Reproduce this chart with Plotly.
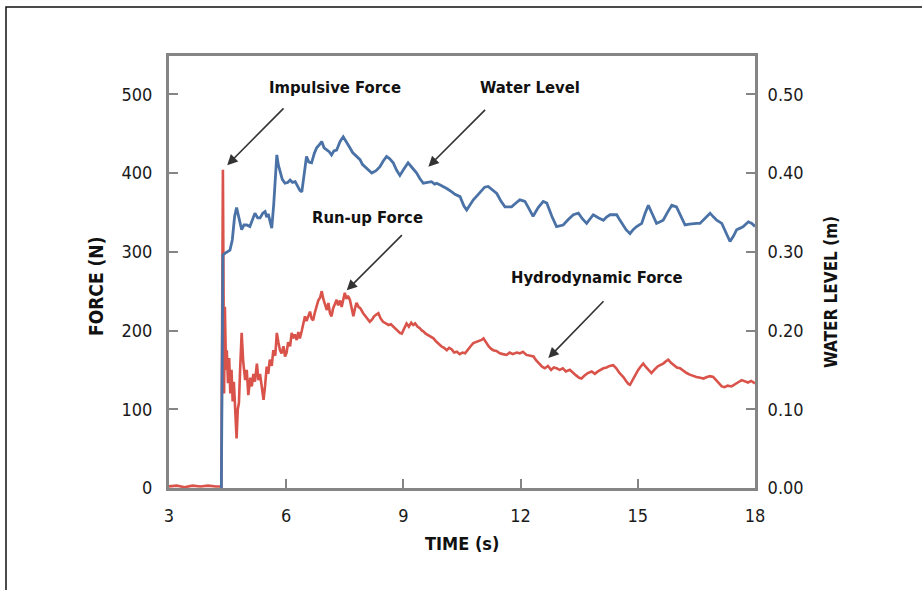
import plotly.graph_objects as go

# ---- data ----
force_t = [3.00, 3.20, 3.40, 3.60, 3.80, 4.00, 4.20, 4.34, 4.38, 4.41, 4.43, 4.46, 4.48, 4.51, 4.54, 4.57,
           4.60, 4.63, 4.66, 4.70, 4.73, 4.76, 4.79, 4.82, 4.86, 4.90, 4.95, 4.99, 5.03, 5.08, 5.12, 5.16,
           5.20, 5.25, 5.29, 5.33, 5.38, 5.42, 5.46, 5.50, 5.54, 5.58, 5.63, 5.67, 5.72, 5.76, 5.80, 5.84,
           5.88, 5.93, 5.97, 6.01, 6.05, 6.10, 6.14, 6.18, 6.22, 6.27, 6.31, 6.35, 6.40, 6.44, 6.48, 6.52,
           6.57, 6.61, 6.65, 6.69, 6.73, 6.78, 6.82, 6.87, 6.91, 6.95, 7.00, 7.04, 7.08, 7.12, 7.16, 7.20,
           7.25, 7.29, 7.33, 7.38, 7.42, 7.46, 7.50, 7.54, 7.58, 7.63, 7.67, 7.72, 7.76, 7.80, 7.85, 7.90,
           7.97, 8.03, 8.08, 8.14, 8.20, 8.25, 8.30, 8.36, 8.42, 8.48, 8.55, 8.62, 8.68, 8.74, 8.80, 8.86,
           8.91, 8.96, 9.02, 9.08, 9.14, 9.20, 9.25, 9.30, 9.36, 9.42, 9.47, 9.51, 9.57, 9.63, 9.70, 9.77,
           9.84, 9.90, 9.97, 10.04, 10.11, 10.17, 10.24, 10.30, 10.37, 10.44, 10.51, 10.58, 10.65, 10.72,
           10.79, 10.86, 10.93, 11.00, 11.05, 11.12, 11.18, 11.24, 11.30, 11.38, 11.47, 11.55, 11.64, 11.72,
           11.80, 11.90, 11.98, 12.06, 12.15, 12.25, 12.33, 12.40, 12.48, 12.55, 12.62, 12.70, 12.78, 12.85,
           12.92, 13.00, 13.08, 13.16, 13.26, 13.34, 13.42, 13.50, 13.56, 13.64, 13.72, 13.82, 13.90, 13.98,
           14.05, 14.12, 14.20, 14.28, 14.37, 14.45, 14.53, 14.63, 14.70, 14.76, 14.80, 14.86, 14.93, 15.01,
           15.07, 15.14, 15.20, 15.28, 15.35, 15.42, 15.50, 15.57, 15.65, 15.72, 15.78, 15.85, 15.93, 16.00,
           16.08, 16.16, 16.25, 16.33, 16.42, 16.50, 16.60, 16.68, 16.77, 16.85, 16.93, 17.00, 17.08, 17.15,
           17.22, 17.30, 17.40, 17.48, 17.56, 17.66, 17.74, 17.82, 17.90, 18.00]
force_n = [2, 3, 1, 3, 2, 3, 2, 2, 404, 120, 230, 150, 175, 133, 165, 120,
           150, 110, 135, 95, 63, 100, 108, 150, 197, 160, 137, 150, 118, 140, 129, 145,
           135, 158, 137, 145, 125, 112, 130, 154, 145, 163, 155, 175, 168, 197, 185, 175,
           171, 180, 167, 172, 185, 180, 197, 190, 195, 188, 198, 190, 200, 210, 218, 212,
           220, 224, 215, 213, 222, 230, 238, 242, 250, 240, 232, 226, 235, 222, 218, 228,
           234, 239, 232, 238, 230, 240, 248, 240, 244, 239, 230, 218, 228, 235, 230, 228,
           222, 218, 214, 211, 214, 218, 220, 222, 215, 211, 209, 207, 208, 205, 203, 200,
           197, 196, 203, 209, 205, 210, 207, 209, 205, 203, 200, 199, 196, 194, 192, 190,
           186, 183, 180, 178, 175, 178, 176, 172, 173, 170, 172, 171, 176, 180,
           184, 185, 187, 188, 190, 184, 180, 177, 175, 174, 171, 170, 169, 172,
           170, 172, 171, 173, 169, 168, 167, 162, 157, 154, 152, 155, 150, 153,
           152, 150, 152, 148, 150, 146, 143, 140, 139, 143, 146, 148, 145, 148,
           150, 152, 153, 155, 156, 152, 146, 141, 136, 132, 131, 137, 143, 150,
           154, 158, 154, 149, 146, 150, 154, 156, 158, 161, 163, 159, 156, 153,
           152, 149, 146, 144, 142, 141, 140, 139, 141, 142, 141, 137, 133, 129,
           128, 130, 129, 131, 134, 137, 135, 134, 136, 133]

level_t = [4.34, 4.38, 4.43, 4.50, 4.56, 4.62, 4.68, 4.73, 4.78, 4.83, 4.86, 4.92, 4.99, 5.07, 5.13, 5.20,
           5.27, 5.33, 5.40, 5.46, 5.50, 5.54, 5.59, 5.63, 5.68, 5.72, 5.76, 5.80, 5.84, 5.90, 5.97, 6.04,
           6.10, 6.16, 6.23, 6.30, 6.35, 6.40, 6.46, 6.52, 6.58, 6.65, 6.72, 6.78, 6.85, 6.91, 6.97, 7.04,
           7.10, 7.16, 7.22, 7.29, 7.38, 7.46, 7.54, 7.63, 7.70, 7.76, 7.82, 7.89, 7.95, 8.02, 8.10, 8.19,
           8.30, 8.40, 8.48, 8.57, 8.65, 8.74, 8.82, 8.91, 9.00, 9.12, 9.22, 9.34, 9.42, 9.51, 9.62, 9.72,
           9.80, 9.85, 9.93, 10.02, 10.12, 10.24, 10.32, 10.45, 10.55, 10.62, 10.70, 10.79, 10.90, 11.00,
           11.08, 11.17, 11.28, 11.39, 11.50, 11.60, 11.70, 11.77, 11.88, 11.98, 12.05, 12.11, 12.20, 12.32,
           12.45, 12.58, 12.67, 12.80, 12.92, 13.00, 13.09, 13.22, 13.35, 13.48, 13.58, 13.69, 13.78, 13.86,
           14.00, 14.12, 14.20, 14.29, 14.38, 14.46, 14.52, 14.59, 14.70, 14.80, 14.88, 14.97, 15.03, 15.10,
           15.18, 15.27, 15.38, 15.48, 15.57, 15.65, 15.76, 15.87, 15.99, 16.10, 16.21, 16.32, 16.42, 16.50,
           16.59, 16.72, 16.85, 16.94, 17.02, 17.15, 17.25, 17.36, 17.45, 17.53, 17.62, 17.70, 17.83, 17.92,
           18.00]
level_m = [0.000, 0.296, 0.298, 0.300, 0.302, 0.315, 0.345, 0.356, 0.345, 0.332, 0.328, 0.334, 0.334, 0.332, 0.340, 0.349,
           0.343, 0.343, 0.349, 0.351, 0.344, 0.348, 0.338, 0.330, 0.360, 0.400, 0.423, 0.410, 0.404, 0.392, 0.387, 0.388,
           0.391, 0.388, 0.389, 0.383, 0.378, 0.376, 0.400, 0.421, 0.414, 0.413, 0.425, 0.432, 0.436, 0.440, 0.432, 0.429,
           0.427, 0.423, 0.428, 0.429, 0.440, 0.446, 0.440, 0.432, 0.426, 0.423, 0.420, 0.417, 0.411, 0.408, 0.404, 0.400,
           0.403, 0.408, 0.415, 0.421, 0.418, 0.413, 0.404, 0.397, 0.404, 0.413, 0.407, 0.400, 0.393, 0.387, 0.388, 0.389,
           0.386, 0.387, 0.385, 0.383, 0.380, 0.376, 0.373, 0.370, 0.358, 0.353, 0.360, 0.366, 0.372, 0.378,
           0.382, 0.383, 0.378, 0.374, 0.364, 0.357, 0.357, 0.357, 0.362, 0.366, 0.365, 0.364, 0.356, 0.345,
           0.356, 0.364, 0.362, 0.345, 0.332, 0.333, 0.334, 0.341, 0.347, 0.349, 0.342, 0.336, 0.342, 0.347,
           0.343, 0.340, 0.344, 0.347, 0.347, 0.347, 0.342, 0.336, 0.328, 0.323, 0.328, 0.332, 0.334, 0.336,
           0.348, 0.359, 0.347, 0.336, 0.338, 0.340, 0.350, 0.359, 0.357, 0.345, 0.334, 0.335, 0.336, 0.336,
           0.336, 0.343, 0.349, 0.344, 0.340, 0.336, 0.325, 0.313, 0.320, 0.328, 0.330, 0.332, 0.338, 0.336,
           0.332]

time_ticks = [3, 6, 9, 12, 15, 18]
force_ticks = [0, 100, 200, 300, 400, 500]
level_ticks = [0.0, 0.1, 0.2, 0.3, 0.4, 0.5]
level_ticktext = ["0.00", "0.10", "0.20", "0.30", "0.40", "0.50"]

labels = ["Impulsive Force", "Water Level", "Run-up Force", "Hydrodynamic Force"]
label_t = [7.25, 12.24, 8.07, 13.95]
label_f = [509, 508, 343, 267]
arrow_head_t = [4.49, 9.64, 7.55, 12.71]
arrow_head_f = [410, 408, 251, 165]
arrow_tail_t = [5.97, 11.13, 9.00, 14.16]
arrow_tail_f = [484, 482, 323, 239]

FONT = "Liberation Sans Narrow, DejaVu Sans Condensed, Arial Narrow, sans-serif"
AXC = "#858585"

fig = go.Figure()
fig.add_trace(go.Scatter(x=force_t, y=force_n, mode="lines", name="Force",
                         line=dict(color="#d9534a", width=2.6), yaxis="y"))
fig.add_trace(go.Scatter(x=level_t, y=level_m, mode="lines", name="Water Level",
                         line=dict(color="#4a72a6", width=2.8), yaxis="y2"))

YMAX = 548.6
axis_common = dict(showline=True, linecolor=AXC, linewidth=3, ticks="inside", ticklen=9,
                   tickwidth=2, tickcolor=AXC, showgrid=False, zeroline=False,
                   tickfont=dict(family=FONT, size=18, color="#1a1a1a"))

fig.update_layout(
    width=922, height=590,
    margin=dict(l=169, r=167, t=56, b=102),
    paper_bgcolor="white", plot_bgcolor="white",
    showlegend=False,
    xaxis=dict(range=[3, 18], tickvals=time_ticks, mirror=True, ticklabelstandoff=9, **axis_common),
    yaxis=dict(range=[0, YMAX], tickvals=force_ticks, mirror=True, ticklabelstandoff=10, **axis_common),
    yaxis2=dict(range=[0, YMAX / 1000], tickvals=level_ticks, ticktext=level_ticktext,
                overlaying="y", side="right", ticklabelstandoff=6, **axis_common),
)

# arrows and their labels
for i in range(len(labels)):
    fig.add_annotation(x=arrow_head_t[i], y=arrow_head_f[i], ax=arrow_tail_t[i], ay=arrow_tail_f[i],
                       xref="x", yref="y", axref="x", ayref="y", text="", showarrow=True,
                       arrowhead=2, arrowsize=1.3, arrowwidth=1.6, arrowcolor="#333333")
    fig.add_annotation(x=label_t[i], y=label_f[i], xref="x", yref="y", text="<b>%s</b>" % labels[i],
                       showarrow=False, font=dict(family=FONT, size=16.5, color="#111111"))

# axis titles
fig.add_annotation(x=(83 - 169) / 586, y=(488 - 287) / 432, xref="paper", yref="paper",
                   text="<b>FORCE (N)</b>", textangle=-90, showarrow=False,
                   font=dict(family=FONT, size=19, color="#111111"))
fig.add_annotation(x=(843 - 169) / 586, y=(488 - 292) / 432, xref="paper", yref="paper",
                   text="<b>WATER LEVEL (m)</b>", textangle=-90, showarrow=False,
                   font=dict(family=FONT, size=17, color="#111111"))
fig.add_annotation(x=(462 - 169) / 586, y=(488 - 556) / 432, xref="paper", yref="paper",
                   text="<b>TIME (s)</b>", showarrow=False,
                   font=dict(family=FONT, size=18, color="#111111"))

# outer frame
fig.add_shape(type="rect", xref="paper", yref="paper",
              x0=(6 - 169) / 586, x1=(940 - 169) / 586, y0=(488 - 620) / 432, y1=(488 - 7) / 432,
              line=dict(color="#111111", width=1.5), fillcolor="rgba(0,0,0,0)", layer="below")

fig.write_html("out.html", config={"displayModeBar": False},
               post_script="document.body.style.margin='0';")
